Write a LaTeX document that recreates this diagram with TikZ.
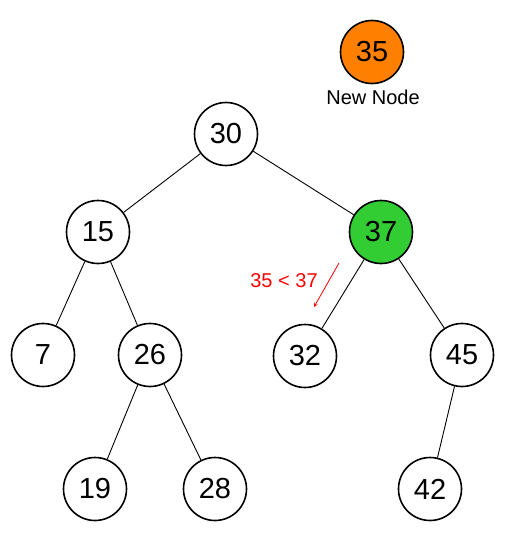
\documentclass[tikz,border=0pt]{standalone}
\usepackage{fontspec}
\setmainfont{Liberation Sans}
\begin{document}
\begin{tikzpicture}[x=1pt,y=-1pt,
  tn/.style={circle,draw=black,line width=1.6pt,fill=white,minimum size=63pt,inner sep=0pt,font=\fontsize{29}{31}\selectfont},
  edge/.style={draw=black,line width=0.9pt},
  lbl/.style={font=\fontsize{20}{22}\selectfont}]
\useasboundingbox (0,0) rectangle (508,535);
\definecolor{neworange}{RGB}{255,128,0}
\definecolor{curgreen}{RGB}{50,205,50}
\node[tn,fill=neworange] (n35) at (372,52) {35};
\node[lbl,anchor=north] (newlbl) at (373,86) {New Node};
\node[tn] (n30) at (226,134) {30};
\node[tn] (n15) at (98,232) {15};
\node[tn,fill=curgreen] (n37) at (381,232) {37};
\node[tn] (n7) at (43,355) {7};
\node[tn] (n26) at (150,355) {26};
\node[tn] (n32) at (305,356) {32};
\node[tn] (n45) at (462,355) {45};
\node[tn] (n19) at (95,489) {19};
\node[tn] (n28) at (215,489) {28};
\node[tn] (n42) at (430,489) {42};
\draw[edge] (n30) -- (n15);
\draw[edge] (n30) -- (n37);
\draw[edge] (n15) -- (n7);
\draw[edge] (n15) -- (n26);
\draw[edge] (n26) -- (n19);
\draw[edge] (n26) -- (n28);
\draw[edge] (n37) -- (n32);
\draw[edge] (n37) -- (n45);
\draw[edge] (n45) -- (n42);
\coordinate (arS) at (339,263);
\coordinate (arE) at (314,307);
\draw[red,line width=0.8pt,->,>=stealth] (arS) -- (arE);
\node[lbl,text=red] (cmp) at (284,281) {35 < 37};
\end{tikzpicture}
\end{document}
